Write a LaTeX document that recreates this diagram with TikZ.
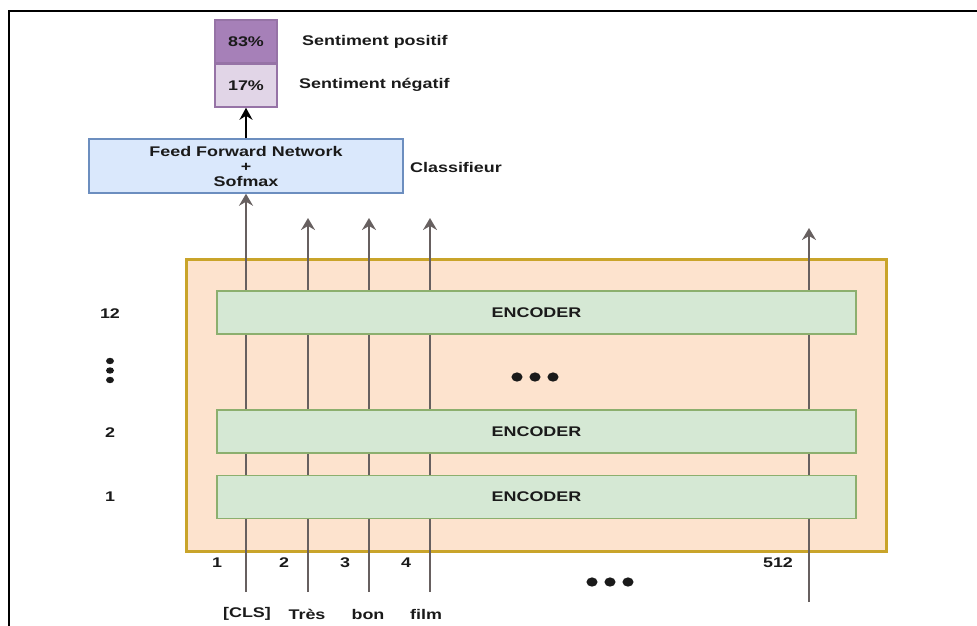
\documentclass[tikz,border=0pt]{standalone}
\usepackage{fontspec}
\setmainfont{Liberation Sans}[FakeStretch=1.28]
\usetikzlibrary{arrows.meta}

\definecolor{txt}{HTML}{1A1A1A}
\definecolor{wire}{HTML}{676060}
\definecolor{stackfill}{HTML}{FDE3CE}
\definecolor{stackline}{HTML}{C9A42A}
\definecolor{encfill}{HTML}{D5E8D4}
\definecolor{encline}{HTML}{8CAF6E}
\definecolor{ffnfill}{HTML}{DAE8FC}
\definecolor{ffnline}{HTML}{6C8EBF}
\definecolor{posfill}{HTML}{A680B8}
\definecolor{negfill}{HTML}{E1D5E7}
\definecolor{probline}{HTML}{9673A6}

\tikzset{
  every node/.style={font=\bfseries\fontsize{14}{15}\selectfont, text=txt},
  lbl/.style={inner sep=0pt},
  encoder/.style={draw=encline, fill=encfill, line width=1.5pt,
    minimum width=639pt, minimum height=43pt},
  prob/.style={draw=probline, line width=1.5pt, minimum width=62pt, minimum height=43pt},
  wireup/.style={draw=wire, line width=2pt, -{Stealth[length=12pt,width=14pt,inset=4pt]}},
}

\begin{document}
\begin{tikzpicture}[x=1pt,y=-1pt]
  \useasboundingbox (0,0) rectangle (977,626);
  \draw[line width=2pt] (9,626) -- (9,11) -- (977,11);

  \draw
    (246,41.5) node[prob, fill=posfill] (pos) {83\%}
    (246,85.5) node[prob, fill=negfill] (neg) {17\%}
    (302,42) node[lbl, anchor=west] (poslbl) {Sentiment positif}
    (299,85) node[lbl, anchor=west] (neglbl) {Sentiment négatif}
    (246,166) node[draw=ffnline, fill=ffnfill, line width=1.5pt, minimum width=314pt,
      minimum height=54pt, align=center] (ffn) {Feed Forward Network\\+\\Sofmax}
    (410,167) node[lbl, anchor=west] (clf) {Classifieur};
  \draw[line width=2.5pt, -{Stealth[length=12pt,width=13pt,inset=4pt]}] (ffn.north) -- (neg.south);

  \node[draw=stackline, fill=stackfill, line width=3pt, minimum width=700pt,
    minimum height=292pt] (stack) at (536,405) {};

  \coordinate (b1) at (246,592);
  \coordinate (b2) at (308,592);
  \coordinate (b3) at (369,592);
  \coordinate (b4) at (430,592);
  \coordinate (b512) at (809,602);
  \coordinate (t2) at (308,218);
  \coordinate (t3) at (369,218);
  \coordinate (t4) at (430,218);
  \coordinate (t512) at (809,228);
  \begin{scope}[wireup]
    \draw (b1) -- (ffn.south);
    \draw (b2) -- (t2);
    \draw (b3) -- (t3);
    \draw (b4) -- (t4);
    \draw (b512) -- (t512);
  \end{scope}

  \draw
    (536.5,312.5) node[encoder] (enc12) {ENCODER}
    (536.5,431.5) node[encoder] (enc2) {ENCODER}
    (536.5,497) node[encoder] (enc1) {ENCODER};

  % layer numbers
  \draw
    (110,314) node[lbl] (l12) {12}
    (110,433) node[lbl] (l2) {2}
    (110,497) node[lbl] (l1) {1};
  \fill[txt] (110,361) ellipse[x radius=4pt, y radius=3.2pt]
    (110,370.5) ellipse[x radius=4pt, y radius=3.2pt]
    (110,380) ellipse[x radius=4pt, y radius=3.2pt];
  \fill[txt] (517,377) ellipse[x radius=5.6pt, y radius=4.6pt]
    (535,377) ellipse[x radius=5.6pt, y radius=4.6pt]
    (553,377) ellipse[x radius=5.6pt, y radius=4.6pt];

  % positions and tokens
  \draw
    (217,563) node[lbl] (p1) {1}
    (284,563) node[lbl] (p2) {2}
    (345,563) node[lbl] (p3) {3}
    (406,563) node[lbl] (p4) {4}
    (778,563) node[lbl] (p512) {512}
    (247,614) node[lbl] (cls) {[CLS]}
    (307,614) node[lbl] (tres) {Très}
    (368,614) node[lbl] (bon) {bon}
    (426,614) node[lbl] (film) {film};
  \fill[txt] (592,582) ellipse[x radius=5.6pt, y radius=4.6pt]
    (610,582) ellipse[x radius=5.6pt, y radius=4.6pt]
    (628,582) ellipse[x radius=5.6pt, y radius=4.6pt];
\end{tikzpicture}
\end{document}
